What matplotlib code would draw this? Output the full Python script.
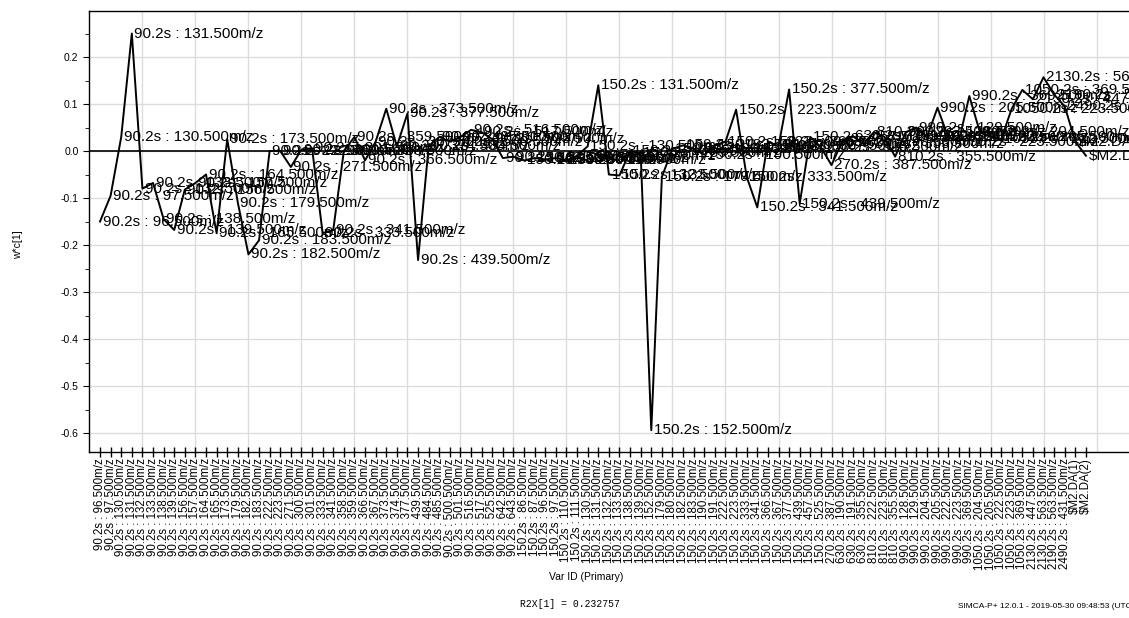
import matplotlib.pyplot as plt
import numpy as np
from matplotlib.ticker import FormatStrFormatter, MultipleLocator

plt.rcParams['font.family'] = ['Liberation Sans', 'DejaVu Sans']
plt.rcParams['axes.unicode_minus'] = False

# ---- variables (retention time : m/z) ----
mz_90 = [96.5, 97.5, 130.5, 131.5, 132.5, 133.5, 138.5, 139.5, 156.5, 157.5,
         164.5, 165.5, 173.5, 179.5, 182.5, 183.5, 222.5, 223.5, 271.5, 300.5,
         301.5, 333.5, 341.5, 358.5, 359.5, 366.5, 367.5, 373.5, 374.5, 377.5,
         439.5, 484.5, 485.5, 500.5, 501.5, 516.5, 517.5, 525.5, 642.5, 643.5]
mz_150 = [86.5, 87.5, 96.5, 97.5, 110.5, 111.5, 130.5, 131.5, 132.5, 133.5,
          138.5, 139.5, 152.5, 179.5, 180.5, 182.5, 183.5, 190.5, 191.5, 222.5,
          223.5, 333.5, 341.5, 366.5, 367.5, 377.5, 439.5, 457.5, 525.5]
mz_270 = [387.5]
mz_630 = [190.5, 191.5, 355.5]
mz_810 = [222.5, 223.5, 355.5]
mz_990 = [128.5, 129.5, 204.5, 205.5, 222.5, 223.5, 369.5]
mz_1050 = [204.5, 205.5, 222.5, 223.5, 369.5]
mz_2130 = [447.5, 563.5]
mz_2190 = [563.5]
mz_2490 = [431.5]
y_vars = ["$M2.DA(1)", "$M2.DA(2)"]

groups = [("90.2s", mz_90), ("150.2s", mz_150), ("270.2s", mz_270),
          ("630.2s", mz_630), ("810.2s", mz_810), ("990.2s", mz_990),
          ("1050.2s", mz_1050), ("2130.2s", mz_2130), ("2190.2s", mz_2190),
          ("2490.2s", mz_2490)]
var_ids = [f"{t} : {m:.3f}m/z" for t, ms in groups for m in ms] + y_vars

# w*c[1] loadings
wc1 = [-0.150, -0.095, 0.030, 0.250, -0.080, -0.068, -0.145, -0.168, -0.082, -0.068,
       -0.050, -0.175, 0.025, -0.110, -0.220, -0.190, 0.000, 0.000, -0.034, 0.003,
       0.006, -0.175, -0.168, 0.000, 0.030, -0.020, 0.020, 0.090, 0.010, 0.080,
       -0.232, 0.010, 0.030, 0.020, 0.030, 0.045, 0.040, 0.025, -0.015, -0.012,
       -0.020, -0.015, -0.018, -0.015, -0.020, -0.010, 0.010, 0.140, -0.050, -0.052,
       0.000, -0.005, -0.594, -0.055, 0.005, 0.012, 0.005, -0.008, 0.012, 0.020,
       0.088, -0.055, -0.120, 0.020, 0.010, 0.131, -0.112, 0.030, 0.008, -0.030,
       0.020, 0.032, 0.015, 0.040, 0.030, -0.012, 0.040, 0.050, 0.030, 0.092,
       0.030, 0.020, 0.117, 0.040, 0.030, 0.025, 0.090, 0.130, 0.110, 0.157,
       0.120, 0.095, 0.020, -0.010]

# ---- figure ----
W, H = 1129, 618
fig = plt.figure(figsize=(W / 100, H / 100), dpi=100)
ax = fig.add_axes([89 / W, (H - 452) / H, (1140 - 89) / W, 441 / H])

x = np.arange(len(var_ids))
labels = [s.replace("$", r"\$") for s in var_ids]

# grid (every 5th variable, every 0.1)
for g in range(4, 99, 5):
    ax.axvline(g, color='#dcdcdc', lw=1.0, zorder=0)
for g in np.arange(-0.6, 0.25, 0.1):
    ax.axhline(g, color='#dcdcdc', lw=1.0, zorder=0)
ax.axhline(0, color='black', lw=1.2, zorder=1)

ax.plot(x, wc1, color='black', lw=1.4, zorder=3)
for xi, v, lab in zip(x, wc1, labels):
    ax.text(xi + 0.25, v, lab, fontsize=11, ha='left', va='center', zorder=4)

ax.set_xlim(-1.04, 98.1)
ax.set_ylim(-0.6404, 0.2979)

ax.set_xticks(x)
ax.set_xticklabels(labels, rotation=90, fontsize=8.3)
ax.tick_params(axis='x', direction='inout', length=7, width=1, pad=1)
ax.yaxis.set_major_locator(MultipleLocator(0.1))
ax.yaxis.set_minor_locator(MultipleLocator(0.05))
ax.yaxis.set_major_formatter(FormatStrFormatter('%.1f'))
ax.tick_params(axis='y', which='major', direction='out', length=4, labelsize=7.5)
ax.tick_params(axis='y', which='minor', direction='out', length=3)
for s in ax.spines.values():
    s.set_linewidth(1.0)

fig.text(18 / W, 1 - 245 / H, "w*c[1]", rotation=90, fontsize=7.5,
         ha='center', va='center')
fig.text(586 / W, 1 - 577 / H, "Var ID (Primary)", fontsize=7.5,
         ha='center', va='center')
fig.text(570 / W, 1 - 604 / H, "R2X[1] = 0.232757", fontsize=7,
         family='Liberation Mono', ha='center', va='center')
fig.text(958 / W, 1 - 606 / H, "SIMCA-P+ 12.0.1 - 2019-05-30 09:48:53 (UTC+8)",
         fontsize=6, ha='left', va='center')

fig.savefig("out.png", dpi=100)
